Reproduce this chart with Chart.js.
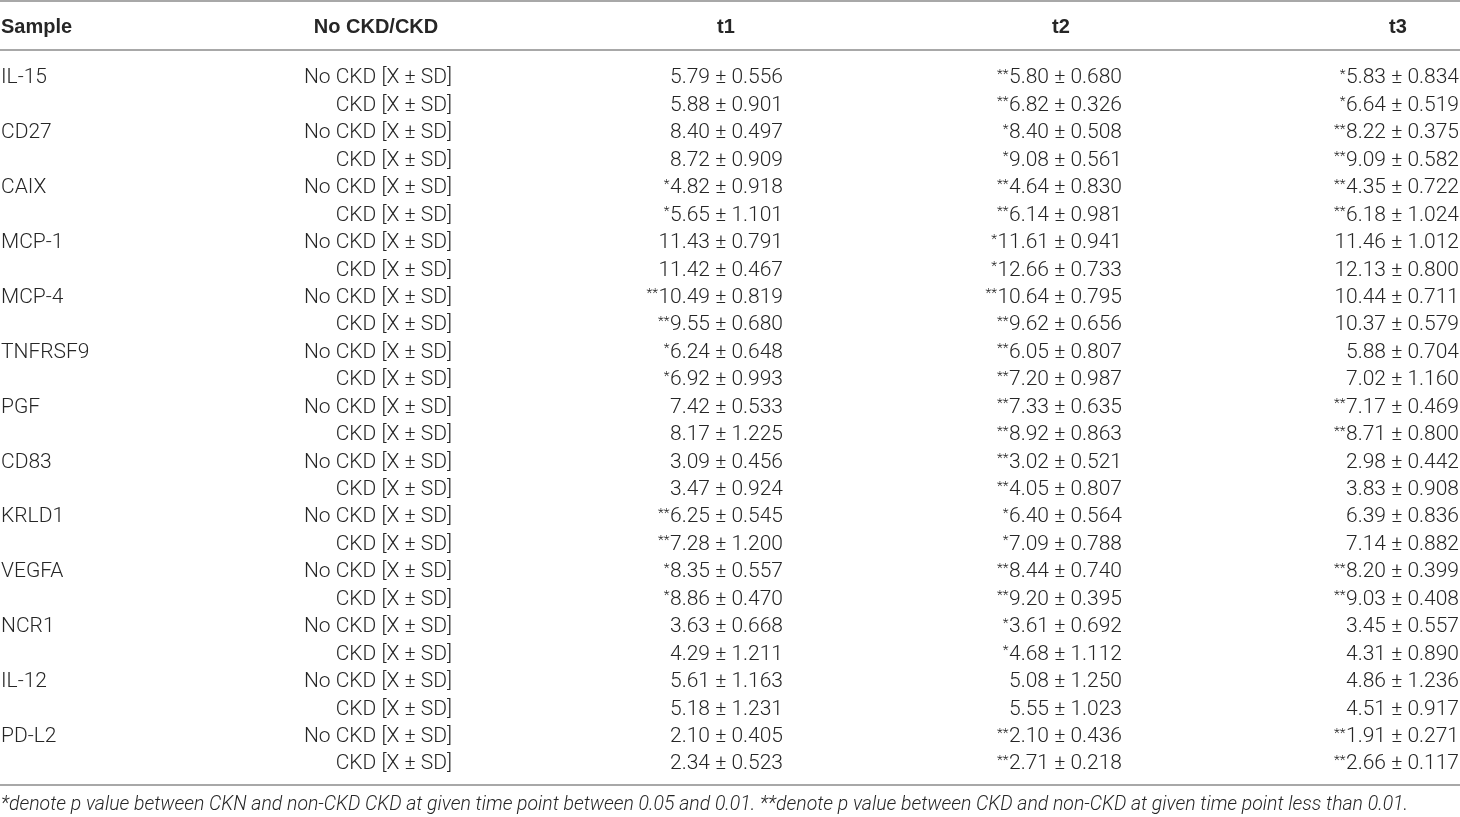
<!DOCTYPE html>
<html>
<head>
<meta charset="utf-8">
<script src="https://cdn.jsdelivr.net/npm/chart.js@4.4.1/dist/chart.umd.min.js"></script>
<style>
  html, body { margin: 0; padding: 0; background: #fff; }
  #wrap { width: 1460px; height: 817px; position: relative; }
</style>
</head>
<body>
<div id="wrap"><canvas id="chart"></canvas></div>
<script>
// table content
const headers = ['Sample', 'No CKD/CKD', 't1', 't2', 't3'];
const samples = ['IL-15', 'CD27', 'CAIX', 'MCP-1', 'MCP-4', 'TNFRSF9', 'PGF', 'CD83', 'KRLD1', 'VEGFA', 'NCR1', 'IL-12', 'PD-L2'];
const groups = ['No CKD [X \u00b1 SD]', 'CKD [X \u00b1 SD]'];

// two rows per sample: No CKD, CKD
const t1Mean = [5.79, 5.88, 8.40, 8.72, 4.82, 5.65, 11.43, 11.42, 10.49, 9.55, 6.24, 6.92, 7.42, 8.17, 3.09, 3.47, 6.25, 7.28, 8.35, 8.86, 3.63, 4.29, 5.61, 5.18, 2.10, 2.34];
const t1Sd = [0.556, 0.901, 0.497, 0.909, 0.918, 1.101, 0.791, 0.467, 0.819, 0.680, 0.648, 0.993, 0.533, 1.225, 0.456, 0.924, 0.545, 1.200, 0.557, 0.470, 0.668, 1.211, 1.163, 1.231, 0.405, 0.523];
const t2Mean = [5.80, 6.82, 8.40, 9.08, 4.64, 6.14, 11.61, 12.66, 10.64, 9.62, 6.05, 7.20, 7.33, 8.92, 3.02, 4.05, 6.40, 7.09, 8.44, 9.20, 3.61, 4.68, 5.08, 5.55, 2.10, 2.71];
const t2Sd = [0.680, 0.326, 0.508, 0.561, 0.830, 0.981, 0.941, 0.733, 0.795, 0.656, 0.807, 0.987, 0.635, 0.863, 0.521, 0.807, 0.564, 0.788, 0.740, 0.395, 0.692, 1.112, 1.250, 1.023, 0.436, 0.218];
const t3Mean = [5.83, 6.64, 8.22, 9.09, 4.35, 6.18, 11.46, 12.13, 10.44, 10.37, 5.88, 7.02, 7.17, 8.71, 2.98, 3.83, 6.39, 7.14, 8.20, 9.03, 3.45, 4.31, 4.86, 4.51, 1.91, 2.66];
const t3Sd = [0.834, 0.519, 0.375, 0.582, 0.722, 1.024, 1.012, 0.800, 0.711, 0.579, 0.704, 1.160, 0.469, 0.800, 0.442, 0.908, 0.836, 0.882, 0.399, 0.408, 0.557, 0.890, 1.236, 0.917, 0.271, 0.117];

// significance marks, one per sample
const t1Sig = ['', '', '*', '', '**', '*', '', '', '**', '*', '', '', ''];
const t2Sig = ['**', '*', '**', '*', '**', '**', '**', '**', '*', '**', '*', '', '**'];
const t3Sig = ['*', '**', '**', '', '', '', '**', '', '', '**', '', '', '**'];

const footnote = '*denote p value between CKN and non-CKD CKD at given time point between 0.05 and 0.01. **denote p value between CKD and non-CKD at given time point less than 0.01.';

// layout (x in page units, y in row units)
const colX = [0, 452, 783, 1122, 1459];
const headX = [0, 376, 726, 1061, 1398];
const pitch = 27.44, firstRow = 76;
const headerRow = -1.82;
const rules = [-2.733, -0.948, 25.84];
const footRow = 26.49;
const footWidth = 1408;

const FONT = 'Roboto, "Liberation Sans", Arial, sans-serif';
const HEAD_FONT = '"Liberation Sans", Arial, sans-serif';
const INK = '#262626';
const SIZE = 21;

function rowPoints(x, labels, sig) {
    return labels.map((t, i) => ({ x: x, y: i, text: t, sig: sig ? sig[Math.floor(i / 2)] : '' }));
}

function valueLabels(mean, sd) {
    return mean.map((m, i) => m.toFixed(2) + ' \u00b1 ' + sd[i].toFixed(3));
}

const sampleLabels = [];
const groupLabels = [];
samples.forEach(s => { sampleLabels.push(s, null); groupLabels.push(groups[0], groups[1]); });

const datasets = [
    { label: 'head', align: 'head', data: headers.map((h, i) => ({ x: headX[i], y: headerRow, text: h, sig: '' })) },
    { label: 'sample', align: 'left', data: rowPoints(colX[0], sampleLabels).filter(p => p.text) },
    { label: 'group', align: 'right', data: rowPoints(colX[1], groupLabels) },
    { label: 't1', align: 'right', data: rowPoints(colX[2], valueLabels(t1Mean, t1Sd), t1Sig) },
    { label: 't2', align: 'right', data: rowPoints(colX[3], valueLabels(t2Mean, t2Sd), t2Sig) },
    { label: 't3', align: 'right', data: rowPoints(colX[4], valueLabels(t3Mean, t3Sd), t3Sig) },
].map(d => Object.assign(d, { pointRadius: 0, pointHoverRadius: 0, showLine: false }));

const tablePlugin = {
    id: 'tableText',
    afterDatasetsDraw(chart) {
        const ctx = chart.ctx;
        const xs = chart.scales.x, ys = chart.scales.y;
        ctx.save();

        // horizontal rules
        ctx.strokeStyle = '#a8a8a8';
        ctx.lineWidth = 2;
        rules.forEach(r => {
            const y = Math.round(ys.getPixelForValue(r));
            ctx.beginPath();
            ctx.moveTo(xs.left, y);
            ctx.lineTo(xs.right, y);
            ctx.stroke();
        });

        ctx.fillStyle = INK;
        ctx.textBaseline = 'alphabetic';
        chart.data.datasets.forEach((ds, di) => {
            const meta = chart.getDatasetMeta(di);
            meta.data.forEach((el, i) => {
                const p = ds.data[i];
                if (ds.align === 'head') {
                    ctx.font = 'bold 20px ' + HEAD_FONT;
                    ctx.textAlign = i === 0 ? 'left' : 'center';
                    ctx.fillText(p.text, el.x + (i === 0 ? 1 : 0), el.y + 7.2);
                    return;
                }
                const base = el.y + SIZE * 0.355;
                ctx.font = '300 ' + SIZE + 'px ' + FONT;
                ctx.textAlign = ds.align;
                const x = ds.align === 'left' ? el.x + 1 : el.x;
                ctx.fillText(p.text, x, base);
                if (p.sig) {
                    const w = ctx.measureText(p.text).width;
                    ctx.font = '300 13.5px ' + FONT;
                    ctx.textAlign = 'right';
                    ctx.fillText(p.sig, x - w - 0.5, base - 5.5);
                }
            });
        });

        // footnote, sized to the reference line length
        ctx.font = 'italic 300 18px ' + FONT;
        const fs = 18 * footWidth / ctx.measureText(footnote).width;
        ctx.font = 'italic 300 ' + fs.toFixed(2) + 'px ' + FONT;
        ctx.textAlign = 'left';
        ctx.fillText(footnote, xs.left + 1, ys.getPixelForValue(footRow) + fs * 0.355);
        ctx.restore();
    }
};

new Chart(document.getElementById('chart'), {
    type: 'scatter',
    data: { datasets: datasets },
    options: {
        responsive: true,
        maintainAspectRatio: false,
        animation: false,
        events: [],
        layout: { padding: 0 },
        plugins: { legend: { display: false }, tooltip: { enabled: false } },
        scales: {
            x: { type: 'linear', display: false, min: 0, max: 1460 },
            y: { type: 'linear', display: false, reverse: true,
                 min: -firstRow / pitch, max: (817 - firstRow) / pitch }
        }
    },
    plugins: [tablePlugin]
});
</script>
</body>
</html>
